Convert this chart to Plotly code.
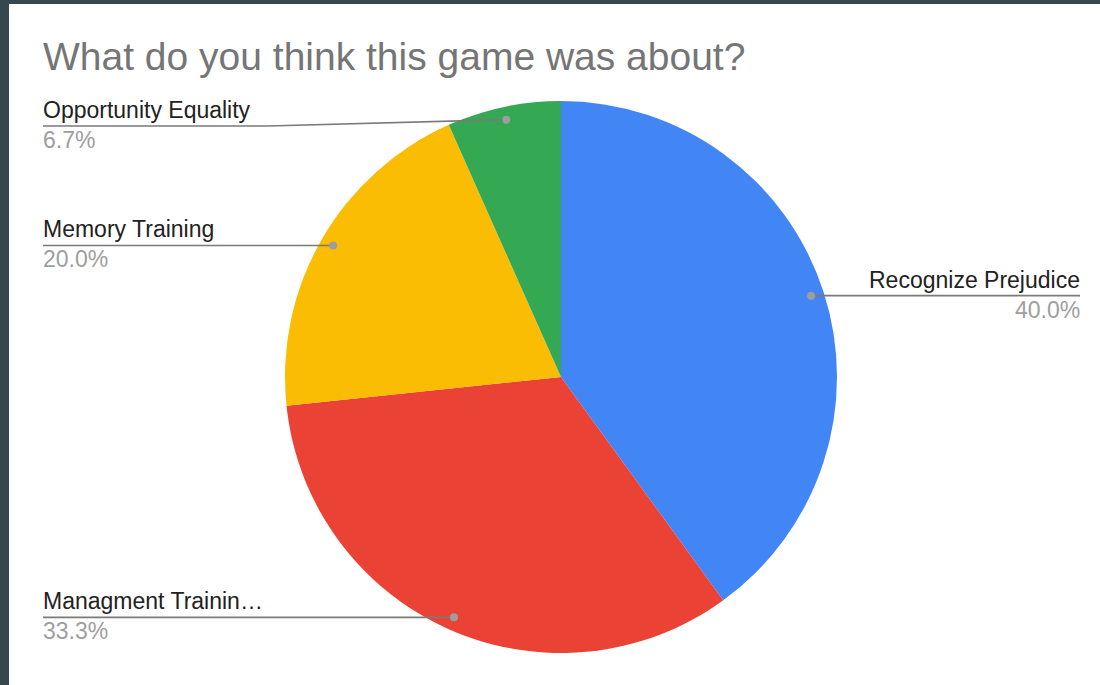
import math
import plotly.graph_objects as go

# Survey responses
categories = ["Recognize Prejudice", "Managment Training", "Memory Training", "Opportunity Equality"]
display_names = ["Recognize Prejudice", "Managment Trainin…", "Memory Training", "Opportunity Equality"]
responses = [6, 5, 3, 1]
colors = ["#4285f4", "#ea4335", "#fbbc04", "#34a853"]

W, H = 1100, 685
CX, CY, R = 561, 377, 276          # pie centre and radius (px)
LEFT_X, RIGHT_X = 43, 1080          # label column edges
TEXT_PAD = 2                        # annotation box padding to compensate
LEFT_KNEE = 268                     # where a bent leader turns horizontal
MIN_LABEL_Y = 126                   # labels stay below the title
DOT_FRAC = 0.953
DOT_R = 4

total = sum(responses)

fig = go.Figure()

fig.add_trace(go.Pie(
    labels=categories,
    values=responses,
    marker=dict(colors=colors, line=dict(width=0)),
    sort=False,
    direction="clockwise",
    rotation=0,
    textinfo="none",
    hoverinfo="label+percent",
    showlegend=False,
    domain=dict(x=[(CX - R) / W, (CX + R) / W], y=[1 - (CY + R) / H, 1 - (CY - R) / H]),
))

shapes = [
    dict(type="rect", xref="paper", yref="paper", x0=9 / W, x1=1, y0=0, y1=1 - 4 / H,
         fillcolor="white", line=dict(width=0), layer="below"),
]
annotations = [
    dict(text="What do you think this game was about?", x=LEFT_X - TEXT_PAD, y=56, xref="x", yref="y",
         xanchor="left", yanchor="middle", showarrow=False,
         font=dict(family="Liberation Sans, Arial", size=39, color="#757575")),
]

cum = 0
for name, v in zip(display_names, responses):
    mid = (cum + v / 2) / total * 2 * math.pi
    cum += v
    dx = CX + DOT_FRAC * R * math.sin(mid)
    dy = CY - DOT_FRAC * R * math.cos(mid)
    right = math.sin(mid) > 0
    ly = max(dy, MIN_LABEL_Y)
    if right:
        pts = [(dx, dy), (RIGHT_X, ly)]
        ax, anchor = RIGHT_X + TEXT_PAD, "right"
    else:
        pts = [(dx, dy), (min(dx, LEFT_KNEE), ly), (LEFT_X, ly)]
        ax, anchor = LEFT_X - TEXT_PAD, "left"
    path = "M " + " L ".join(f"{px:.2f},{py:.2f}" for px, py in pts)
    shapes.append(dict(type="path", xref="x", yref="y", path=path, layer="above",
                       line=dict(color="#7a7a7a", width=1.7)))
    shapes.append(dict(type="circle", xref="x", yref="y", layer="above",
                       x0=dx - DOT_R, x1=dx + DOT_R, y0=dy - DOT_R, y1=dy + DOT_R,
                       fillcolor="#9e9e9e", line=dict(width=0)))
    pct = f"{v / total * 100:.1f}%"
    annotations.append(dict(text=name, x=ax, y=ly - 16, xref="x", yref="y", xanchor=anchor,
                            yanchor="middle", showarrow=False,
                            font=dict(family="Liberation Sans, Arial", size=23, color="#222222")))
    annotations.append(dict(text=pct, x=ax, y=ly + 14, xref="x", yref="y", xanchor=anchor,
                            yanchor="middle", showarrow=False,
                            font=dict(family="Liberation Sans, Arial", size=23, color="#9e9e9e")))

fig.update_layout(
    width=W, height=H,
    margin=dict(l=0, r=0, t=0, b=0),
    paper_bgcolor="#37474f",
    plot_bgcolor="rgba(0,0,0,0)",
    xaxis=dict(range=[0, W], visible=False, fixedrange=True),
    yaxis=dict(range=[H, 0], visible=False, fixedrange=True),
    shapes=shapes,
    annotations=annotations,
)

fig.write_html("out.html", config=dict(displayModeBar=False))
